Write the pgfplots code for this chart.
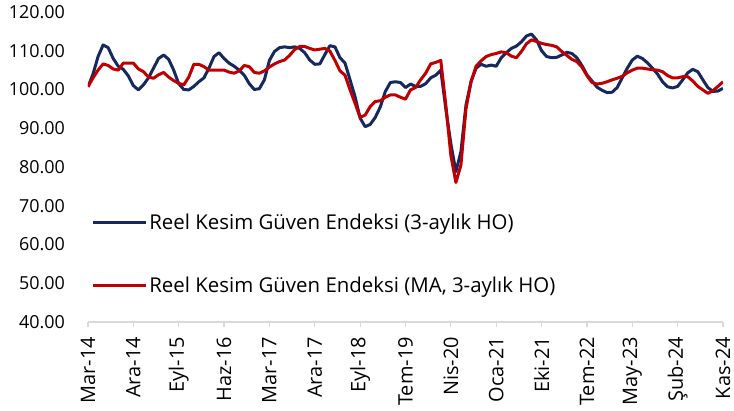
\documentclass[border=0pt]{standalone}
\usepackage{fontspec}
\setmainfont{Open Sans}
\usepackage{pgfplots}
\usepackage{pgfplotstable}
\pgfplotsset{compat=1.18}
\definecolor{navy}{HTML}{15295E}
\definecolor{dred}{HTML}{C00000}
\definecolor{axgray}{HTML}{D9D9D9}
\pgfplotstableread{
i blue red
0 100.7 100.7
1 104.0 103.0
2 108.5 105.0
3 111.5 106.6
4 110.8 106.2
5 108.0 105.3
6 106.0 105.0
7 105.2 106.8
8 103.5 106.8
9 101.0 106.8
10 99.9 105.3
11 101.2 104.6
12 103.0 103.2
13 105.5 102.9
14 108.0 103.8
15 108.9 104.4
16 107.8 103.2
17 105.0 102.3
18 101.5 101.6
19 100.0 101.2
20 99.9 103.2
21 100.8 106.5
22 102.0 106.5
23 103.0 105.9
24 105.5 105.0
25 108.5 105.0
26 109.5 105.0
27 108.0 105.0
28 106.8 104.5
29 106.0 104.2
30 105.0 104.8
31 103.7 106.2
32 101.5 105.9
33 100.0 104.4
34 100.2 104.2
35 102.5 104.8
36 107.5 105.8
37 109.8 106.6
38 110.8 107.2
39 111.0 107.6
40 110.8 108.8
41 111.0 110.3
42 110.6 111.1
43 109.5 111.1
44 107.6 110.6
45 106.5 110.2
46 106.6 110.4
47 109.0 110.6
48 111.3 109.9
49 111.0 107.5
50 108.2 104.8
51 106.8 103.7
52 102.5 99.9
53 98.1 96.4
54 92.6 92.8
55 90.4 93.4
56 91.0 95.6
57 92.8 96.9
58 95.5 97.1
59 99.5 98.0
60 101.8 98.6
61 102.0 98.6
62 101.8 98.0
63 100.5 97.5
64 101.4 99.9
65 100.8 100.5
66 100.8 102.5
67 101.5 104.2
68 103.0 106.6
69 103.7 107.0
70 105.0 107.5
71 95.0 96.0
72 86.0 83.0
73 78.8 76.0
74 84.0 80.5
75 96.0 95.0
76 102.0 102.0
77 105.5 106.0
78 106.5 107.4
79 106.0 108.5
80 106.3 109.0
81 106.0 109.3
82 108.2 109.7
83 109.5 109.5
84 110.6 108.6
85 111.2 108.2
86 112.3 109.8
87 113.8 111.8
88 114.3 112.8
89 112.8 112.4
90 110.0 111.9
91 108.5 111.6
92 108.2 111.4
93 108.3 111.0
94 108.9 109.8
95 109.6 108.8
96 109.3 107.8
97 108.2 107.2
98 106.2 105.8
99 103.8 103.6
100 102.2 101.8
101 100.6 101.4
102 99.8 101.6
103 99.2 102.0
104 99.3 102.5
105 100.5 102.9
106 103.0 103.4
107 105.5 104.3
108 107.6 105.0
109 108.6 105.5
110 108.0 105.5
111 106.9 105.3
112 105.5 105.1
113 104.0 105.0
114 102.0 104.6
115 100.7 103.6
116 100.4 103.0
117 100.8 103.0
118 102.5 103.3
119 104.3 103.3
120 105.2 102.2
121 104.6 100.8
122 102.5 99.9
123 100.5 99.0
124 99.5 99.7
125 99.6 100.8
126 100.3 102.0
}\datatable
\begin{document}
\begin{tikzpicture}
\begin{axis}[
  scale only axis,
  width=635bp, height=310bp,
  xmin=0, xmax=126, ymin=40, ymax=120,
  axis lines*=left,
  axis line style={draw=none},
  x axis line style={draw=axgray, line width=1.5bp},
  xtick={0,9,...,126},
  xticklabels={Mar-14,Ara-14,Eyl-15,Haz-16,Mar-17,Ara-17,Eyl-18,Tem-19,Nis-20,Oca-21,Eki-21,Tem-22,May-23,Şub-24,Kas-24},
  xticklabel style={rotate=90, anchor=east, inner xsep=10bp, font=\fontsize{20}{22}\selectfont},
  xtick align=outside,
  major tick length=5bp,
  x tick style={draw=axgray, line width=1.2bp},
  ytick={40,50,...,120},
  y tick style={draw=none},
  yticklabel style={font=\fontsize{18}{20}\selectfont, inner sep=0pt, xshift=-23bp},
  /pgf/number format/.cd, fixed, fixed zerofill, precision=2, assume math mode=true,
  /pgfplots/.cd,
  legend style={draw=none, fill=none, at={(0.005,0.355)}, anchor=north west,
    font=\fontsize{20.5}{23}\selectfont, row sep=42bp, inner sep=0pt,
    legend cell align=left},
  legend image code/.code={\draw[#1, line width=3bp] (0bp,0bp) -- (53bp,0bp);},
  every axis plot/.append style={line width=3bp, line join=round},
]
\addplot[navy, no markers] table[x=i, y=blue] {\datatable};
\addlegendentry{Reel Kesim Güven Endeksi (3-aylık HO)}
\addplot[dred, no markers] table[x=i, y=red] {\datatable};
\addlegendentry{Reel Kesim Güven Endeksi (MA, 3-aylık HO)}
\end{axis}
\pgfresetboundingbox
\path[use as bounding box] ([shift={(-88bp,-89bp)}]current axis.south west) rectangle ([shift={(11bp,12bp)}]current axis.north east);
\end{tikzpicture}
\end{document}
